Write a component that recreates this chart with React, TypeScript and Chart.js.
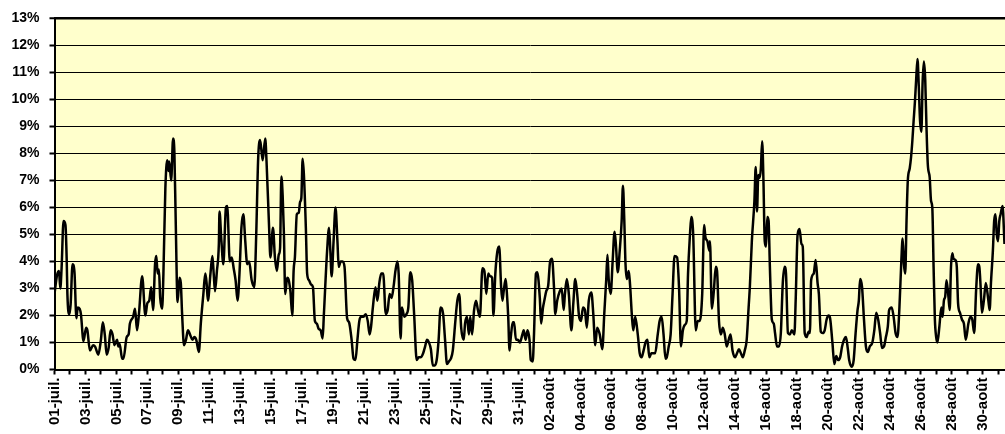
import { useEffect, useRef } from 'react';
import { Chart, registerables } from 'chart.js';

Chart.register(...registerables);

// Tick labels, one every two days (days 0, 2, 4, ... from 1 July)
const dateLabels = [
  '01-juil.', '03-juil.', '05-juil.', '07-juil.', '09-juil.', '11-juil.', '13-juil.', '15-juil.',
  '17-juil.', '19-juil.', '21-juil.', '23-juil.', '25-juil.', '27-juil.', '29-juil.', '31-juil.',
  '02-août', '04-août', '06-août', '08-août', '10-août', '12-août', '14-août', '16-août',
  '18-août', '20-août', '22-août', '24-août', '26-août', '28-août', '30-août',
];

// [hours since 1 July 00:00, value in %]
const julyFirstHalf: [number, number][] = [
  [0, 2.8], [4, 3.5], [7, 3.65], [9, 3.0], [11, 3.75], [14, 5.5], [17, 5.35], [19, 4.0], [20, 2.8],
  [23, 2.05], [25, 2.4], [28, 3.9], [31, 3.6], [34, 1.9], [36, 2.3], [39, 2.25], [41, 2.05], [45, 1.05],
  [49, 1.55], [51, 1.45], [55, 0.7], [60, 0.9], [63, 0.85], [68, 0.55], [72, 1.1], [75, 1.75], [78, 1.3],
  [81, 0.55], [84, 0.8], [87, 1.45], [90, 1.3], [93, 0.9], [97, 1.1], [99, 0.85], [101, 0.95], [105, 0.4],
  [107, 0.4], [112, 1.2], [115, 1.3], [117, 1.7], [122, 1.95], [125, 2.25], [128, 1.45], [131, 2.05],
  [136, 3.45], [141, 2.0], [144, 2.45], [147, 2.55], [150, 3.05], [153, 2.2], [156, 3.9], [158, 4.2],
  [160, 3.55], [162, 3.7], [164, 2.65], [167, 2.25], [169, 3.55], [172, 6.7], [175, 7.75], [177, 7.35],
  [178, 7.7], [181, 7.0], [184, 8.55], [186, 8.05], [188, 5.6], [191, 2.5], [194, 3.4], [196, 3.2],
  [198, 2.05], [201, 0.9], [204, 1.1], [207, 1.45], [211, 1.25], [214, 1.1], [217, 1.2], [220, 1.1],
  [224, 0.65], [227, 1.7], [231, 2.8], [234, 3.55], [236, 3.2], [238, 2.55], [242, 3.55], [245, 4.2],
  [247, 3.55], [249, 2.9], [252, 3.65], [255, 4.65], [256, 5.85], [259, 4.75], [262, 3.9], [266, 6.0],
  [268, 6.05], [272, 4.0], [275, 4.15], [278, 3.75], [281, 3.3], [284, 2.55], [287, 3.55], [290, 5.25],
  [293, 5.75], [296, 4.75], [299, 3.9], [302, 4.0], [306, 3.3], [310, 3.05], [313, 5.0], [316, 7.8],
  [319, 8.5], [323, 7.75], [327, 8.55], [329, 7.7], [333, 5.25], [335, 4.15], [339, 5.25], [342, 4.15],
  [345, 3.65], [348, 4.25], [350, 4.5], [352, 7.15], [354, 6.45], [356, 5.0], [358, 2.8],
];

const julySecondHalf: [number, number][] = [
  [361, 3.4], [363, 3.35], [366, 2.9], [369, 2.0], [371, 3.65], [373, 4.15], [376, 5.75], [379, 5.8],
  [381, 6.2], [383, 6.35], [385, 7.8], [387, 7.2], [390, 5.25], [392, 3.55], [395, 3.3], [398, 3.15],
  [401, 3.05], [404, 1.8], [407, 1.7], [410, 1.5], [413, 1.45], [416, 1.15], [418, 2.05], [423, 4.4],
  [426, 5.25], [428, 4.4], [430, 3.45], [433, 4.75], [436, 6.0], [439, 4.75], [441, 3.8], [444, 4.0],
  [447, 4.0], [450, 3.8], [454, 1.9], [457, 1.75], [461, 1.1], [464, 0.4], [467, 0.35], [470, 1.1],
  [473, 1.8], [476, 1.95], [479, 1.95], [483, 2.05], [486, 1.8], [489, 1.3], [491, 1.55], [494, 2.3],
  [498, 3.05], [501, 2.55], [504, 3.2], [507, 3.55], [510, 3.55], [514, 2.05], [517, 2.2], [520, 2.8],
  [523, 2.65], [526, 3.05], [529, 3.65], [532, 4.0], [534, 3.55], [537, 1.15], [539, 2.3], [543, 1.95],
  [546, 2.05], [549, 2.3], [552, 3.6], [555, 3.3], [558, 2.05], [562, 0.35], [565, 0.45], [568, 0.45],
  [572, 0.6], [575, 0.85], [578, 1.1], [581, 1.0], [584, 0.75], [587, 0.15], [590, 0.15], [593, 0.35],
  [596, 1.1], [599, 2.3], [603, 2.05], [606, 1.1], [609, 0.2], [612, 0.3], [615, 0.4], [618, 0.7],
  [622, 1.8], [625, 2.55], [628, 2.8], [631, 1.55], [635, 1.1], [637, 1.7], [640, 1.95], [643, 1.3],
  [645, 1.95], [648, 1.3], [651, 2.2], [654, 2.55], [657, 2.2], [660, 1.95], [664, 3.75], [667, 3.65],
  [670, 2.8], [673, 3.55], [676, 3.45], [679, 3.4], [681, 2.0], [684, 3.55], [687, 4.35], [690, 4.55],
  [693, 3.05], [695, 2.55], [697, 2.9], [700, 3.35], [702, 2.8], [704, 1.95], [706, 0.7], [708, 1.2],
  [711, 1.75], [713, 1.75], [716, 1.1], [719, 1.1], [722, 1.0], [726, 1.3], [728, 1.45], [731, 1.1],
  [734, 1.45], [737, 1.1], [739, 0.35], [742, 0.3],
];

const augustFirstHalf: [number, number][] = [
  [744, 1.3], [747, 3.55], [749, 3.6], [753, 2.65], [755, 1.7], [758, 2.3], [760, 2.55], [763, 2.9],
  [766, 3.1], [769, 4.0], [772, 4.1], [775, 3.05], [777, 2.05], [780, 2.55], [784, 2.9], [787, 3.0],
  [790, 2.2], [792, 2.8], [795, 3.35], [798, 2.8], [802, 1.45], [805, 2.45], [808, 3.35], [811, 2.8],
  [814, 1.95], [817, 1.8], [820, 2.3], [823, 2.2], [826, 1.55], [829, 2.55], [833, 2.85], [836, 2.05],
  [839, 0.9], [842, 1.55], [846, 1.3], [850, 0.75], [853, 2.05], [856, 3.3], [858, 4.25], [860, 3.3],
  [863, 2.8], [866, 4.0], [869, 5.1], [871, 4.65], [874, 3.6], [877, 4.4], [880, 5.5], [882, 6.8],
  [884, 5.6], [886, 3.9], [888, 3.35], [891, 3.65], [893, 3.15], [896, 1.95], [898, 1.45], [901, 1.95],
  [905, 1.3], [908, 0.6], [911, 0.45], [914, 0.7], [917, 1.0], [920, 1.1], [923, 0.45], [926, 0.6],
  [929, 0.6], [932, 0.6], [936, 1.3], [939, 1.8], [942, 1.95], [945, 1.3], [948, 0.4], [950, 0.45],
  [953, 0.85], [956, 1.3], [959, 2.8], [962, 4.2], [966, 4.15], [969, 3.05], [972, 0.85], [975, 1.45],
  [978, 1.65], [981, 1.8], [983, 3.55], [986, 5.0], [988, 5.65], [991, 5.0], [995, 1.45], [998, 1.8],
  [1001, 1.8], [1005, 2.8], [1008, 5.35], [1010, 4.9], [1013, 4.75], [1016, 4.4], [1017, 4.75],
  [1020, 2.25], [1023, 2.9], [1026, 3.8], [1028, 3.65], [1031, 1.8], [1034, 1.3], [1037, 1.55],
  [1040, 1.3], [1043, 0.85], [1046, 1.1], [1049, 1.3], [1052, 0.7], [1056, 0.45], [1059, 0.6],
  [1062, 0.75], [1065, 0.6], [1068, 0.45], [1071, 0.7], [1074, 1.1], [1077, 2.3], [1079, 3.1],
  [1082, 4.75], [1086, 6.25], [1088, 7.5], [1090, 5.85], [1092, 7.2], [1094, 7.1], [1096, 7.45],
  [1098, 8.45], [1100, 7.0], [1102, 4.75], [1104, 4.55], [1106, 5.65], [1108, 5.5], [1110, 3.8],
];

const augustSecondHalf: [number, number][] = [
  [1113, 1.85], [1116, 1.7], [1118, 1.35], [1121, 0.85], [1124, 0.85], [1127, 1.35], [1130, 3.2],
  [1133, 3.8], [1135, 3.55], [1138, 1.35], [1141, 1.3], [1144, 1.45], [1148, 1.3], [1150, 2.55],
  [1153, 5.0], [1156, 5.2], [1159, 4.65], [1161, 4.55], [1164, 1.35], [1167, 1.2], [1170, 1.4],
  [1172, 1.35], [1174, 3.3], [1178, 3.55], [1181, 4.05], [1184, 3.2], [1186, 2.8], [1189, 1.4],
  [1192, 1.35], [1195, 1.45], [1198, 1.85], [1201, 2.0], [1203, 1.95], [1207, 1.0], [1210, 0.2],
  [1213, 0.5], [1216, 0.35], [1219, 0.45], [1222, 0.85], [1225, 1.1], [1228, 1.2], [1231, 0.75],
  [1233, 0.35], [1237, 0.1], [1240, 0.35], [1243, 1.35], [1246, 2.2], [1248, 2.55], [1250, 3.35],
  [1253, 3.05], [1256, 1.85], [1259, 0.85], [1262, 0.65], [1265, 0.85], [1269, 1.0], [1272, 1.45],
  [1275, 2.1], [1278, 1.85], [1281, 1.35], [1284, 0.8], [1287, 0.85], [1290, 1.2], [1293, 1.6],
  [1295, 2.2], [1299, 2.3], [1302, 1.95], [1305, 1.35], [1308, 1.2], [1311, 2.3], [1314, 4.05],
  [1316, 4.85], [1318, 3.9], [1320, 3.55], [1322, 5.5], [1324, 7.0], [1327, 7.45], [1329, 7.85],
  [1331, 8.45], [1333, 9.2], [1335, 9.9], [1337, 10.75], [1339, 11.5], [1341, 10.5], [1343, 9.2],
  [1345, 8.8], [1347, 10.65], [1349, 11.4], [1351, 10.75], [1353, 8.95], [1355, 7.6], [1358, 7.1],
  [1360, 6.25], [1362, 6.0], [1364, 3.8], [1366, 1.85], [1368, 1.2], [1370, 1.0], [1373, 1.6],
  [1376, 2.3], [1378, 1.95], [1380, 2.55], [1382, 2.7], [1384, 3.3], [1387, 2.7], [1389, 2.2],
  [1391, 3.8], [1393, 4.3], [1395, 4.1], [1398, 4.05], [1400, 3.8], [1402, 2.45], [1405, 2.1],
  [1408, 1.85], [1411, 1.7], [1414, 1.1], [1418, 1.7], [1421, 1.95], [1424, 1.85], [1427, 1.35],
  [1430, 2.95], [1433, 3.9], [1435, 3.8], [1437, 3.05], [1439, 2.1], [1442, 2.55], [1445, 3.2],
  [1449, 2.55], [1451, 2.2], [1453, 3.2], [1456, 4.4], [1458, 5.5], [1460, 5.75], [1462, 5.0],
  [1464, 4.75], [1466, 5.5], [1468, 5.75], [1471, 6.05], [1474, 4.65],
];

const FONT = "'Liberation Sans', Arial, sans-serif";

const plotBackground = {
  id: 'plotBackground',
  beforeDraw(chart: any) {
    const { ctx, chartArea } = chart;
    if (!chartArea) return;
    ctx.save();
    ctx.fillStyle = '#FFFFCC';
    ctx.fillRect(chartArea.left, chartArea.top, chartArea.right - chartArea.left, chartArea.bottom - chartArea.top);
    ctx.restore();
  },
};

export default function App() {
  const canvasRef = useRef<HTMLCanvasElement | null>(null);

  useEffect(() => {
    if (!canvasRef.current) return;
    const series = [...julyFirstHalf, ...julySecondHalf, ...augustFirstHalf, ...augustSecondHalf];
    const points = series.map(([h, v]) => ({ x: h / 24, y: v }));

    const chart = new Chart(canvasRef.current, {
      type: 'line',
      data: {
        datasets: [
          {
            data: points,
            borderColor: '#000000',
            borderWidth: 2.5,
            pointRadius: 0,
            cubicInterpolationMode: 'monotone',
            borderJoinStyle: 'round',
            fill: false,
          },
        ],
      },
      options: {
        animation: false,
        responsive: true,
        maintainAspectRatio: false,
        events: [],
        layout: { padding: { top: 15.5, left: 0, right: 0, bottom: 0 } },
        plugins: {
          legend: { display: false },
          tooltip: { enabled: false },
          title: { display: false },
        },
        scales: {
          x: {
            type: 'linear',
            min: 0,
            max: 61.45,
            afterFit: (s: any) => {
              s.height = 64.5;
              s.paddingLeft = 0;
              s.paddingRight = 0;
            },
            border: { display: true, color: '#000000', width: 2 },
            grid: {
              drawOnChartArea: false,
              drawTicks: true,
              tickLength: 5,
              tickWidth: 2,
              tickColor: '#000000',
              color: '#000000',
            },
            ticks: {
              stepSize: 1,
              includeBounds: false,
              autoSkip: false,
              maxTicksLimit: 100,
              maxRotation: 90,
              minRotation: 90,
              padding: 3,
              color: '#000000',
              font: { family: FONT, size: 15, weight: 'bold' },
              callback: (value: any) => {
                const v = Number(value);
                if (Number.isInteger(v) && v % 2 === 0) return dateLabels[v / 2] ?? '';
                return '';
              },
            },
          },
          y: {
            type: 'linear',
            min: 0,
            max: 13,
            afterFit: (s: any) => {
              s.width = 54.5;
            },
            border: { display: true, color: '#000000', width: 2 },
            grid: {
              color: '#000000',
              lineWidth: (ctx: any) => (ctx.tick && ctx.tick.value === 13 ? 2.5 : 1),
              drawTicks: true,
              tickLength: 5,
              tickWidth: 2,
              tickColor: '#000000',
            },
            ticks: {
              stepSize: 1,
              padding: 10,
              color: '#000000',
              font: { family: FONT, size: 14, weight: 'bold' },
              callback: (value: any) => `${value}%`,
            },
          },
        },
      },
      plugins: [plotBackground],
    });

    return () => chart.destroy();
  }, []);

  return (
    <div
      style={{
        position: 'fixed',
        left: 0,
        top: 0,
        width: 1005,
        height: 434,
        background: '#ffffff',
        overflow: 'hidden',
      }}
    >
      <canvas ref={canvasRef} />
    </div>
  );
}
